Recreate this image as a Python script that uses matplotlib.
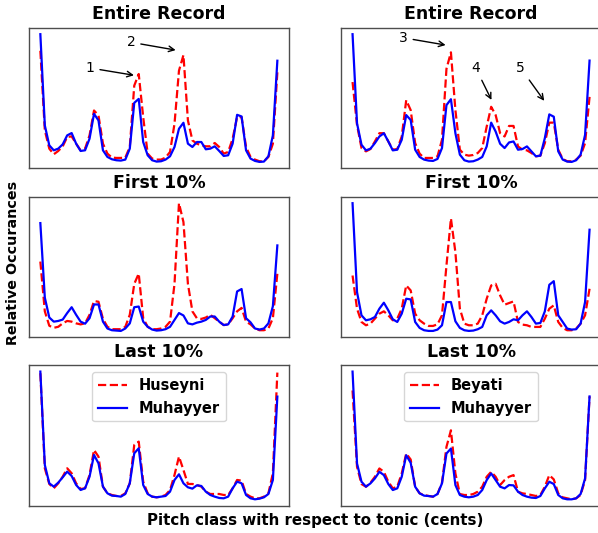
import numpy as np
import matplotlib
matplotlib.use('Agg')
import matplotlib.pyplot as plt

# pitch class bins (53 per octave + wrap)
bins = np.arange(54)

# top row: entire record
huseyni_all = [355,115,60,43,53,67,95,97,75,55,60,100,175,160,75,45,33,32,32,33,65,250,285,155,45,30,27,27,33,50,
               135,295,342,145,85,75,70,67,67,77,65,45,50,90,155,155,65,35,27,22,22,35,75,290]
muhayyer_all_l = [405,130,70,55,60,73,100,107,75,53,55,90,165,145,55,35,28,25,24,27,60,198,210,80,40,25,21,22,27,37,
                  65,120,138,75,65,80,80,58,60,67,53,38,40,75,162,157,55,30,23,20,21,37,100,325]
beyati_all = [260,130,60,50,57,80,105,105,80,55,57,95,205,175,75,43,30,30,30,35,85,300,350,175,55,40,37,39,45,60,
              125,185,160,105,95,127,127,65,55,53,45,35,37,75,137,137,55,27,20,20,25,37,75,215]
muhayyer_all_r = [405,135,70,53,58,75,95,105,80,53,55,85,160,145,55,33,25,22,21,27,60,190,208,105,40,23,19,20,25,33,
                  65,137,110,73,60,77,80,55,57,65,50,35,37,90,162,155,50,25,19,18,23,40,100,325]

# middle row: first 10%
huseyni_first = [222,77,35,29,32,42,49,47,42,39,42,67,107,105,55,32,25,25,25,32,67,157,187,57,32,25,25,27,32,47,
                 157,392,337,157,77,57,55,59,67,57,47,37,39,57,77,87,47,39,27,22,22,27,57,187]
muhayyer_first_l = [334,117,59,47,49,53,72,89,67,47,41,57,97,97,47,27,22,21,20,27,42,89,91,47,32,24,21,22,25,32,
                    52,72,65,42,39,44,47,52,62,62,47,37,39,62,135,142,57,45,27,24,27,42,92,269]
beyati_first = [187,87,47,37,42,57,72,79,67,52,57,87,157,142,72,52,42,35,35,40,67,217,359,257,87,42,37,37,42,67,
                117,157,162,127,99,104,109,47,39,37,32,32,32,57,87,97,47,29,22,22,27,42,67,147]
muhayyer_first_r = [405,137,67,52,55,62,87,105,82,55,47,72,117,115,47,29,22,20,20,24,37,107,107,49,29,22,20,21,25,32,
                    67,82,67,49,42,47,55,52,67,79,62,42,44,79,159,170,67,47,27,24,25,42,107,325]

# bottom row: last 10%
huseyni_last = [397,112,65,52,67,87,112,97,67,50,52,92,167,147,57,37,32,29,29,37,67,182,192,72,37,27,25,27,32,47,
                92,147,107,65,65,62,57,42,35,35,35,32,32,52,77,75,35,27,22,22,27,37,97,399]
muhayyer_last_l = [402,122,67,57,69,85,102,89,62,47,52,87,152,127,57,37,30,29,27,35,67,157,172,62,35,27,25,27,29,42,
                   77,94,67,55,51,61,59,42,32,27,23,22,27,52,72,67,32,22,19,21,25,35,77,327]
beyati_last = [347,117,65,57,69,87,112,102,72,52,57,97,157,139,57,37,32,29,27,35,69,177,227,97,35,32,32,35,42,57,
               87,102,87,62,77,87,92,42,37,35,32,29,32,57,92,79,37,25,22,19,22,32,77,329]
muhayyer_last_r = [404,127,72,57,67,82,102,92,65,47,52,87,152,129,57,37,30,29,27,35,67,157,172,62,32,27,25,27,32,47,
                   77,97,77,57,52,62,61,42,32,27,24,23,29,52,72,65,32,22,19,19,22,35,82,329]

titles = ['Entire Record', 'First 10%', 'Last 10%']
makam_l, makam_r = 'Huseyni', 'Beyati'

fig = plt.figure(figsize=(5.98, 5.33), dpi=100)

lefts = [28.5 / 598, 340.7 / 598]
bottoms = [364.7 / 533, 195.7 / 533, 27.3 / 533]
w, h = 260.7 / 598, 140.5 / 533

data = [[(huseyni_all, muhayyer_all_l, makam_l), (beyati_all, muhayyer_all_r, makam_r)],
        [(huseyni_first, muhayyer_first_l, makam_l), (beyati_first, muhayyer_first_r, makam_r)],
        [(huseyni_last, muhayyer_last_l, makam_l), (beyati_last, muhayyer_last_r, makam_r)]]

axes = []
for r in range(3):
    row = []
    for c in range(2):
        ax = fig.add_axes([lefts[c], bottoms[r], w, h])
        red, blue, name = data[r][c]
        ax.plot(bins, red, 'r--', linewidth=1.6, label=name)
        ax.plot(bins, blue, 'b-', linewidth=1.6, label='Muhayyer')
        ax.set_xticks([])
        ax.set_yticks([])
        for s in ax.spines.values():
            s.set_color('0.3')
            s.set_linewidth(1.0)
        ax.set_title(titles[r], fontsize=12.5, fontweight='bold', pad=6)
        if r == 2:
            ax.legend(loc='upper center', prop={'weight': 'bold', 'size': 10.5})
        row.append(ax)
    axes.append(row)

arr = dict(arrowstyle='->', color='black', lw=1.0)
a = axes[0][0]
a.annotate('1', xy=(0.415, 0.659), xytext=(0.236, 0.714), xycoords='axes fraction',
           textcoords='axes fraction', ha='center', va='center', fontsize=10, arrowprops=arr)
a.annotate('2', xy=(0.575, 0.838), xytext=(0.393, 0.897), xycoords='axes fraction',
           textcoords='axes fraction', ha='center', va='center', fontsize=10, arrowprops=arr)
a = axes[0][1]
a.annotate('3', xy=(0.413, 0.874), xytext=(0.240, 0.929), xycoords='axes fraction',
           textcoords='axes fraction', ha='center', va='center', fontsize=10, arrowprops=arr)
a.annotate('4', xy=(0.583, 0.469), xytext=(0.518, 0.714), xycoords='axes fraction',
           textcoords='axes fraction', ha='center', va='center', fontsize=10, arrowprops=arr)
a.annotate('5', xy=(0.787, 0.464), xytext=(0.690, 0.714), xycoords='axes fraction',
           textcoords='axes fraction', ha='center', va='center', fontsize=10, arrowprops=arr)

fig.text(13 / 598, 1 - 263 / 533, 'Relative Occurances', rotation=90, ha='center', va='center',
         fontsize=10.3, fontweight='bold')
fig.text(315 / 598, 1 - 520 / 533, 'Pitch class with respect to tonic (cents)', ha='center', va='center',
         fontsize=10.8, fontweight='bold')

fig.savefig('out.png', dpi=100)
